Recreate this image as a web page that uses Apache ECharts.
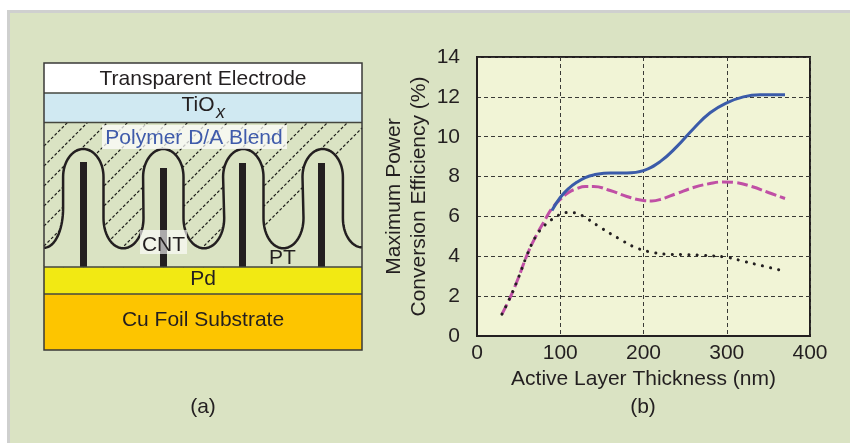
<!DOCTYPE html>
<html><head><meta charset="utf-8">
<style>html,body{margin:0;padding:0;background:#fff}#c{width:850px;height:443px}</style>
<script src="https://cdn.jsdelivr.net/npm/echarts@6/dist/echarts.min.js"></script>
</head><body><div id="c"></div>
<script>
const xTicks = [0, 100, 200, 300, 400];
const blueX = [90,100,110,120,130,140,160,180,200,220,240,260,280,300,320,340,370];
const blueY = [6.3,6.95,7.4,7.72,7.95,8.08,8.18,8.18,8.3,8.75,9.5,10.4,11.2,11.7,12.0,12.1,12.1];
const magentaX = [30,40,50,60,70,80,90,100,110,120,130,140,160,180,200,210,220,240,260,280,295,310,330,350,370];
const magentaY = [1.1,1.95,2.95,4.05,4.95,5.7,6.4,6.85,7.2,7.4,7.5,7.5,7.3,7.0,6.8,6.78,6.85,7.15,7.45,7.65,7.73,7.7,7.5,7.2,6.9];
const dotX = [30,40,50,60,70,80,90,100,110,120,130,150,170,190,210,230,250,270,300,320,340,370];
const dotY = [1.1,1.95,2.95,4.05,4.95,5.5,5.85,6.1,6.2,6.15,5.95,5.4,4.9,4.45,4.2,4.1,4.08,4.05,3.95,3.75,3.55,3.25];
const layerLabels = ['Transparent Electrode','TiO','x','Polymer D/A Blend','CNT','PT','Pd','Cu Foil Substrate'];

const FONT = '"Liberation Sans", Arial, sans-serif';
const INK = '#231f20', BG = '#dae3c3';
const pairs = (a,b) => a.map((v,i)=>[v,b[i]]);

const g = []; let zc = 0;
const rect = (x,y,w,h,fill,stroke,lw) => g.push({type:'rect',z:zc++,silent:true,shape:{x,y,width:w,height:h},style:{fill:fill||'none',stroke:stroke||'none',lineWidth:lw||0}});
const txt = (t,x,y,size,fill,extra) => g.push({type:'text',z:zc++,silent:true,x,y,style:Object.assign({text:t,fill:fill||INK,font:size+'px '+FONT,textAlign:'center',textVerticalAlign:'middle'},extra||{})});

g.push({type:'rect',z:-10,silent:true,shape:{x:7,y:10,width:843,height:433},style:{fill:'#cfd0cf'}});
g.push({type:'rect',z:-9,silent:true,shape:{x:10,y:13,width:840,height:430},style:{fill:BG}});

const L=44,R=362;
rect(L,63,R-L,30,'#ffffff');
rect(L,93,R-L,29.5,'#d0e9f2');
rect(L,122.5,R-L,145,BG);
rect(L,267,R-L,27,'#f2e913');
rect(L,294,R-L,56,'#fdc500');

for(let c=190;c<=500;c+=20){
  let x1=c-267,y1=267,x2=c-122.5,y2=122.5;
  if(x1<L){x1=L;y1=c-L;}
  if(x2>R){x2=R;y2=c-R;}
  if(x1>=x2) continue;
  g.push({type:'line',z:zc,silent:true,shape:{x1,y1,x2,y2},style:{stroke:'#1f1f1b',lineWidth:1.2,lineDash:[3,2]}});
}
zc++;

const peaks=[83.3,163.3,243.3,322.7], troughs=[123.3,204,283.3];
const topY=149, botY=248.3, hw=20.2;
function cubic(p0,p1,p2,p3,out){for(let i=1;i<=18;i++){const t=i/18,u=1-t;out.push([u*u*u*p0[0]+3*u*u*t*p1[0]+3*u*t*t*p2[0]+t*t*t*p3[0],u*u*u*p0[1]+3*u*u*t*p1[1]+3*u*t*t*p2[1]+t*t*t*p3[1]]);}}
const wave=[[L,botY-0.5]];
const upA=177,loA=218,firstA=208;
cubic([L,botY-0.5],[L+11,botY-0.5],[peaks[0]-hw,firstA+22],[peaks[0]-hw,firstA],wave);
peaks.forEach((p,i)=>{
  wave.push([p-hw,upA]);
  cubic([p-hw,upA],[p-hw,upA-15.5],[p-11,topY],[p,topY],wave);
  cubic([p,topY],[p+11,topY],[p+hw,upA-15.5],[p+hw,upA],wave);
  wave.push([p+hw,loA]);
  if(i<3){const t=troughs[i];
    cubic([p+hw,loA],[p+hw,loA+17],[t-11,botY],[t,botY],wave);
    cubic([t,botY],[t+11,botY],[t+hw,loA+17],[t+hw,loA],wave);
  } else {
    cubic([p+hw,loA],[p+hw,loA+17],[R-10,botY-1],[R,botY-1],wave);
  }
});
g.push({type:'polygon',z:zc++,silent:true,shape:{points:wave.concat([[R,267],[L,267]])},style:{fill:BG}});
g.push({type:'polyline',z:zc++,silent:true,shape:{points:wave},style:{stroke:INK,lineWidth:2.5,fill:'none',lineJoin:'round'}});

[[80,162],[160,168],[239,163],[318,163]].forEach(b=>rect(b[0],b[1],7,267-b[1],INK));

rect(102,125,185,24,'rgba(255,255,255,0.72)');
rect(140,230,47,24,'rgba(255,255,255,0.62)');

[[L,93,R,93],[L,122.5,R,122.5],[L,267,R,267],[L,294,R,294]].forEach(s=>g.push({type:'line',z:zc,silent:true,shape:{x1:s[0],y1:s[1],x2:s[2],y2:s[3]},style:{stroke:'#45473f',lineWidth:1.3}}));
zc++;
rect(L,63,R-L,287,null,'#3a3a38',1.5);

const FS=21;
txt(layerLabels[0],203,79.5,FS);
txt(layerLabels[1],198,105.5,FS);
txt(layerLabels[2],220.5,113,18,INK,{font:'italic 18px '+FONT});
txt(layerLabels[3],194,138,FS,'#3f5bab');
txt(layerLabels[4],163.5,245,FS);
txt(layerLabels[5],282.5,258.5,FS);
txt(layerLabels[6],203,279.5,FS);
txt(layerLabels[7],203,320.5,FS);
txt('(a)',203,407,FS);
txt('(b)',643,407,FS);

const line = (name,x,y,color,width,type,z,cap) => ({name,type:'line',data:pairs(x,y),smooth:0.45,symbol:'none',z,
  lineStyle:{color,width,type,cap:cap||'butt'}});

const chart = echarts.init(document.getElementById('c'),null,{renderer:'canvas'});
chart.setOption({
  animation:false,
  backgroundColor:'transparent',
  textStyle:{fontFamily:FONT},
  graphic:{elements:g},
  grid:{left:477,top:57,width:333,height:279,show:true,backgroundColor:'#f1f4d6',borderColor:INK,borderWidth:2,containLabel:false},
  xAxis:{type:'value',min:0,max:400,interval:100,
    name:'Active Layer Thickness (nm)',nameLocation:'middle',nameGap:33,nameTextStyle:{fontSize:FS,color:INK,fontFamily:FONT},
    axisLine:{show:true,onZero:false,lineStyle:{color:INK,width:2}},axisTick:{show:false},
    axisLabel:{fontSize:FS,color:INK,margin:7,fontFamily:FONT,showMinLabel:true,showMaxLabel:true},
    splitLine:{show:true,lineStyle:{color:'#3a3a36',width:1,type:[4,3]}}},
  yAxis:{type:'value',min:0,max:14,interval:2,
    name:'Maximum Power\nConversion Efficiency (%)',nameLocation:'middle',nameRotate:90,nameGap:45,
    nameTextStyle:{fontSize:FS,color:INK,lineHeight:25,fontFamily:FONT},
    axisLine:{show:true,onZero:false,lineStyle:{color:INK,width:2}},axisTick:{show:false},
    axisLabel:{fontSize:FS,color:INK,margin:17,fontFamily:FONT,showMinLabel:true,showMaxLabel:true},
    splitLine:{show:true,lineStyle:{color:'#3a3a36',width:1,type:[4,3]}}},
  series:[
    line('Magenta',magentaX,magentaY,'#c04fa5',3,[11,4],3),
    line('Blue',blueX,blueY,'#3b5ba9',3,'solid',4),
    line('Dotted',dotX,dotY,'#231f20',3,[0.1,8.2],5,'round')
  ]
});
</script></body></html>
